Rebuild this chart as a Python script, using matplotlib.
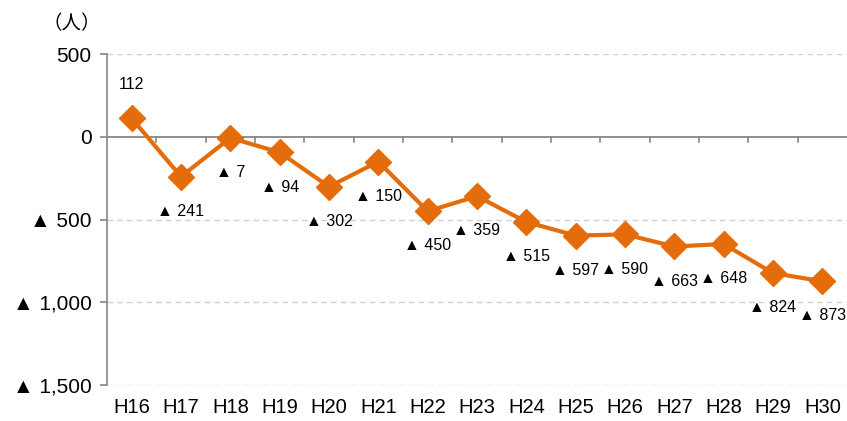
import numpy as np
import matplotlib.pyplot as plt

plt.rcParams['font.family'] = ['Liberation Sans', 'Noto Sans CJK JP', 'DejaVu Sans']

years = ['H16', 'H17', 'H18', 'H19', 'H20', 'H21', 'H22', 'H23',
         'H24', 'H25', 'H26', 'H27', 'H28', 'H29', 'H30']
values = [112, -241, -7, -94, -302, -150, -450, -359,
          -515, -597, -590, -663, -648, -824, -873]
yticks = [500, 0, -500, -1000, -1500]
ytick_labels = ['500', '0', '▲ 500', '▲ 1,000', '▲ 1,500']

def fmt(v):
    return str(v) if v >= 0 else '▲ ' + format(-v, ',')

fig = plt.figure(figsize=(8.47, 4.21), dpi=100)
ax = fig.add_axes([0.1263, 0.0855, 0.8737, 0.7862])

x = np.arange(len(years))
ax.plot(x, values, color='#E46C0A', lw=3, marker='D', ms=13, zorder=3)

for xi, v in zip(x, values):
    off = 24 if v >= 0 else -25
    ax.annotate(fmt(v), (xi, v), xytext=(0, off), textcoords='offset points',
                ha='center', va='center', fontsize=11.5)

ax.set_xlim(-0.5, len(years) - 0.5)
ax.set_ylim(-1500, 500)
ax.set_yticks(yticks)
ax.set_yticklabels(ytick_labels, fontsize=15)
for yv in [500, -500, -1000, -1500]:
    ax.axhline(yv, color='#D0D0D0', lw=1, ls=(0, (4, 3)), zorder=1)
ax.axhline(0, color='#868686', lw=1.3, zorder=2)

# category labels at the bottom, tick marks on the zero line
ax.set_xticks(x)
ax.set_xticklabels(years, fontsize=14.5)
ax.tick_params(axis='x', length=0, pad=9)
for b in np.arange(-0.5, len(years) + 0.5, 1.0)[1:-1]:
    ax.plot([b, b], [0, -30], color='#868686', lw=1.2, zorder=2, clip_on=False)

ax.tick_params(axis='y', length=5, color='#868686', width=1.2, pad=6)
for s in ['top', 'right', 'bottom']:
    ax.spines[s].set_visible(False)
ax.spines['left'].set_color('#868686')
ax.spines['left'].set_linewidth(1.2)

fig.text(0.085, 0.945, '（人）', fontsize=14, ha='center', va='center',
         family=['Noto Sans CJK JP', 'DejaVu Sans'])

fig.savefig('out.png', dpi=100)
